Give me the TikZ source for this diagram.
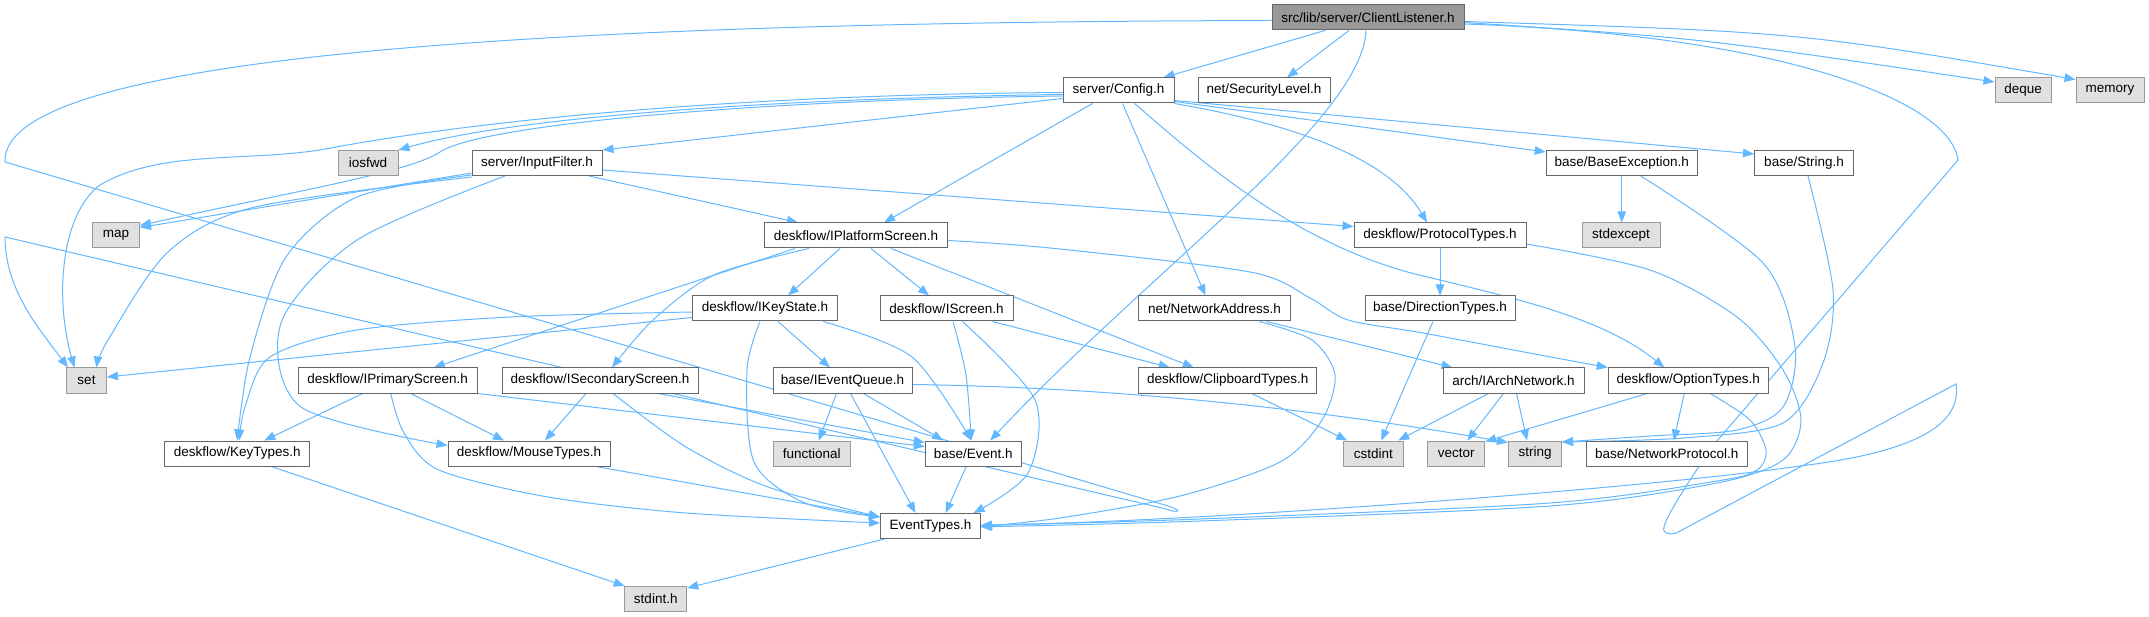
\documentclass[tikz,border=0pt]{standalone}
\usepackage{fontspec}
\setmainfont{Liberation Sans}
\usetikzlibrary{arrows.meta,backgrounds}
\definecolor{edgeblue}{HTML}{63B8FF}
\definecolor{boxline}{HTML}{666666}
\definecolor{sysline}{HTML}{999999}
\definecolor{sysfill}{HTML}{E0E0E0}
\definecolor{curfill}{HTML}{999999}
\tikzset{
  hdr/.style={draw=boxline, fill=white, line width=1pt, minimum height=25pt, inner sep=0pt,
              font=\fontsize{13.5}{16}\selectfont},
  sys/.style={hdr, draw=sysline, fill=sysfill},
  cur/.style={hdr, fill=curfill},
  dep/.style={draw=edgeblue, line width=1pt, -{Triangle[length=11pt,width=8.5pt]}},
}
\begin{document}
\begin{tikzpicture}[x=1pt,y=-1pt]
\useasboundingbox (0,0) rectangle (2149,617);

% ---------------- nodes ----------------
\node[cur, minimum width=192pt] (CL) at (1368,17.5) {src/lib/server/ClientListener.h};
\node[hdr, minimum width=111pt] (Config) at (1118.5,90.5) {server/Config.h};
\node[hdr, minimum width=132pt] (SecLevel) at (1264,90.5) {net/SecurityLevel.h};
\node[sys, minimum width=56pt] (deque) at (2023,90.5) {deque};
\node[sys, minimum width=68pt] (memory) at (2110,90.5) {memory};
\node[sys, minimum width=60pt] (iosfwd) at (368,163) {iosfwd};
\node[hdr, minimum width=130pt] (InputFilter) at (537,163) {server/InputFilter.h};
\node[hdr, minimum width=151pt] (BaseExc) at (1621.75,163) {base/BaseException.h};
\node[hdr, minimum width=99pt] (String) at (1804,163) {base/String.h};
\node[sys, minimum width=47pt] (map) at (116,235.5) {map};
\node[hdr, minimum width=183pt] (IPlatform) at (856,235.5) {deskflow/IPlatformScreen.h};
\node[hdr, minimum width=172pt] (Protocol) at (1440,235.5) {deskflow/ProtocolTypes.h};
\node[sys, minimum width=78pt] (stdexcept) at (1621,235.5) {stdexcept};
\node[hdr, minimum width=145pt] (IKeyState) at (765,308.5) {deskflow/IKeyState.h};
\node[hdr, minimum width=133pt] (IScreen) at (946.5,308.5) {deskflow/IScreen.h};
\node[hdr, minimum width=152pt] (NetAddr) at (1214.5,308.5) {net/NetworkAddress.h};
\node[hdr, minimum width=150pt] (DirTypes) at (1440,308.5) {base/DirectionTypes.h};
\node[sys, minimum width=40pt] (set) at (86.5,380.5) {set};
\node[hdr, minimum width=179pt] (IPrimary) at (387.7,380.5) {deskflow/IPrimaryScreen.h};
\node[hdr, minimum width=196pt] (ISecondary) at (600,380.5) {deskflow/ISecondaryScreen.h};
\node[hdr, minimum width=139pt] (IEventQueue) at (842.5,380.5) {base/IEventQueue.h};
\node[hdr, minimum width=178pt] (Clipboard) at (1227.8,380.5) {deskflow/ClipboardTypes.h};
\node[hdr, minimum width=141pt] (IArchNet) at (1513.5,380.5) {arch/IArchNetwork.h};
\node[hdr, minimum width=160pt] (OptionTypes) at (1688.25,380.5) {deskflow/OptionTypes.h};
\node[hdr, minimum width=145pt] (KeyTypes) at (237.25,453.5) {deskflow/KeyTypes.h};
\node[hdr, minimum width=162pt] (MouseTypes) at (529,453.5) {deskflow/MouseTypes.h};
\node[sys, minimum width=77pt] (functional) at (811.75,453.5) {functional};
\node[hdr, minimum width=96pt] (Event) at (973.25,453.5) {base/Event.h};
\node[sys, minimum width=60pt] (cstdint) at (1373.25,453.5) {cstdint};
\node[sys, minimum width=57pt] (vector) at (1456.25,453.5) {vector};
\node[sys, minimum width=53pt] (string) at (1535,453.5) {string};
\node[hdr, minimum width=161pt] (NetProto) at (1666.75,453.5) {base/NetworkProtocol.h};
\node[hdr, minimum width=100pt] (EventTypes) at (930.5,526) {EventTypes.h};
\node[sys, minimum width=62pt] (stdint) at (655.75,599) {stdint.h};

% ---------------- edges ----------------
\begin{pgfonlayer}{background}
\fill[white] (0,0) rectangle (2149,617);

% ClientListener
\draw[dep] ([xshift=-43pt]CL.south) -- ([xshift=45pt]Config.north);
\draw[dep] ([xshift=-19pt]CL.south) -- ([xshift=23pt]SecLevel.north);
\draw[dep] ([yshift=-5pt]CL.east) .. controls (1700,38) .. ([yshift=8.5pt]deque.west);
\draw[dep] ([yshift=-4pt]CL.east) .. controls (1800,32) .. ([yshift=11pt]memory.west);
\draw[dep] ([xshift=-2pt]CL.south) .. controls (1362,120) and (1150,270) .. ([xshift=17pt]Event.north);
\draw[dep] ([yshift=-3pt]CL.west) .. controls (600,22) and (0,50) .. (5,162)
   -- (1168,506) .. controls (1182,510) and (1180,514) .. (1166,509)
   -- (5,237) .. controls (5,290) and (40,330) .. ([xshift=2pt]set.north west);
\draw[dep] ([yshift=-6.5pt]CL.east) .. controls (1780,35) and (1950,100) .. (1958,160)
   -- (1717,441) .. controls (1690,478) and (1660,525) .. (1664,531)
   .. controls (1667,535) and (1674,535) .. (1680,531)
   -- (1956,384) .. controls (1962,425) and (1915,452) .. (1800,466)
   .. controls (1650,488) and (1200,522) .. ([yshift=1pt]EventTypes.east);

% Config
\draw[dep] ([yshift=-4pt]Config.west) .. controls (800,98) and (520,115) .. (iosfwd.north east);
\draw[dep] ([yshift=-8pt]Config.west) -- (InputFilter.north east);
\draw[dep] ([yshift=-5.5pt]Config.west) .. controls (750,100) and (480,125) .. (440,152)
   .. controls (410,172) and (300,190) .. ([yshift=-3pt]map.north east);
\draw[dep] ([yshift=-2pt]Config.west) .. controls (700,95) and (450,125) .. (320,150)
   .. controls (240,162) and (160,150) .. (100,185)
   .. controls (60,215) and (55,300) .. ([xshift=-12pt]set.north);
\draw[dep] ([xshift=-26pt]Config.south) -- ([xshift=28pt]IPlatform.north);
\draw[dep] (Config.south east) .. controls (1300,125) and (1390,160) .. ([xshift=-13pt]Protocol.north);
\draw[dep] ([yshift=2pt]Config.south east) -- ([yshift=-2pt]BaseExc.north west);
\draw[dep] ([yshift=3pt]Config.south east) -- ([yshift=-4pt]String.north west);
\draw[dep] ([xshift=4pt]Config.south) -- ([xshift=-9pt]NetAddr.north);
\draw[dep] ([xshift=16pt]Config.south) .. controls (1200,160) and (1290,240) .. (1411,273)
   .. controls (1500,295) and (1600,315) .. ([xshift=-24pt]OptionTypes.north);

% InputFilter
\draw[dep] ([yshift=-10pt]InputFilter.west) -- ([yshift=-5pt]map.north east);
\draw[dep] plot[smooth] coordinates {([yshift=-14pt]InputFilter.west) (255,207) (168,252) (108,340) ([xshift=10pt]set.north)};
\draw[dep] plot[smooth] coordinates {([yshift=-12pt]InputFilter.west) (357,197) (286,257) (250,357) (KeyTypes.north)};
\draw[dep] plot[smooth] coordinates {([xshift=-32pt]InputFilter.south) (357,240) (281,323) (301,407) ([yshift=8pt]MouseTypes.west)};
\draw[dep] ([xshift=52pt]InputFilter.south) -- ([xshift=-58pt]IPlatform.north);
\draw[dep] ([yshift=-7pt]InputFilter.east) -- ([yshift=9pt]Protocol.west);

% IPlatformScreen
\draw[dep] ([xshift=-16pt]IPlatform.south) -- ([xshift=23pt]IKeyState.north);
\draw[dep] ([xshift=15pt]IPlatform.south) -- ([xshift=-17.5pt]IScreen.north);
\draw[dep] ([xshift=-61pt]IPlatform.south) -- ([xshift=46pt]IPrimary.north);
\draw[dep] plot[smooth] coordinates {([xshift=-47pt]IPlatform.south) (714,275) (653,320) ([xshift=12pt]ISecondary.north)};
\draw[dep] ([xshift=35pt]IPlatform.south) -- ([xshift=-34pt]Clipboard.north);
\draw[dep] plot[smooth] coordinates {([yshift=-5pt]IPlatform.east) (1050,248) (1250,272) (1310,298) (1348,320) (1423,333) (1540,355) (OptionTypes.north west)};

% IKeyState
\draw[dep] ([yshift=-9pt]IKeyState.west) -- ([yshift=3.5pt]set.east);
\draw[dep] plot[smooth] coordinates {([yshift=-3.5pt]IKeyState.west) (510,317) (357,330) (270,357) (245,407) ([xshift=2pt]KeyTypes.north)};
\draw[dep] ([xshift=13pt]IKeyState.south) -- ([xshift=-12.5pt]IEventQueue.north);
\draw[dep] plot[smooth] coordinates {([xshift=58pt]IKeyState.south) (912,357) ([xshift=-2pt]Event.north)};
\draw[dep] plot[smooth] coordinates {([xshift=-5pt]IKeyState.south) (747,370) (754,462) (805,503) ([yshift=9pt]EventTypes.west)};

% IScreen
\draw[dep] plot[smooth] coordinates {([xshift=6.5pt]IScreen.south) (966,375) ([xshift=-2pt]Event.north)};
\draw[dep] plot[smooth] coordinates {([xshift=16pt]IScreen.south) (1035,400) (1028,473) ([xshift=43pt]EventTypes.north)};
\draw[dep] ([xshift=46pt]IScreen.south) -- ([xshift=-58pt]Clipboard.north);

% IPrimaryScreen
\draw[dep] ([xshift=-25pt]IPrimary.south) -- ([xshift=27pt]KeyTypes.north);
\draw[dep] ([xshift=23pt]IPrimary.south) -- ([xshift=-25pt]MouseTypes.north);
\draw[dep] plot[smooth] coordinates {([xshift=3pt]IPrimary.south) (404,433) (439,470) (548,497) (686,513) ([yshift=3pt]EventTypes.west)};
\draw[dep] (IPrimary.south east) -- ([yshift=7pt]Event.west);

% ISecondaryScreen
\draw[dep] ([xshift=-14pt]ISecondary.south) -- ([xshift=16pt]MouseTypes.north);
\draw[dep] plot[smooth] coordinates {([xshift=13pt]ISecondary.south) (686,447) (768,487) ([yshift=9pt]EventTypes.west)};
\draw[dep] ([xshift=58pt]ISecondary.south) -- ([yshift=11pt]Event.west);

% IEventQueue
\draw[dep] ([xshift=-6pt]IEventQueue.south) -- ([xshift=7pt]functional.north);
\draw[dep] ([xshift=21pt]IEventQueue.south) -- ([xshift=-30pt]Event.north);
\draw[dep] ([xshift=8pt]IEventQueue.south) -- ([xshift=-15pt]EventTypes.north);
\draw[dep] ([yshift=-4pt]IEventQueue.east) .. controls (1150,388) and (1350,415) .. ([yshift=11pt]string.west);

% Event, MouseTypes, KeyTypes, EventTypes
\draw[dep] ([xshift=-7pt]Event.south) -- ([xshift=15pt]EventTypes.north);
\draw[dep] ([xshift=67pt]MouseTypes.south) -- ([yshift=9pt]EventTypes.west);
\draw[dep] ([xshift=34pt]KeyTypes.south) -- ([xshift=-31pt]stdint.north);
\draw[dep] ([xshift=-46pt]EventTypes.south) -- ([yshift=11pt]stdint.east);

% BaseException, String
\draw[dep] (BaseExc.south) -- (BaseExc.south |- stdexcept.north);
\draw[dep] plot[smooth] coordinates {([xshift=19pt]BaseExc.south) (1763,263) (1795,347) (1783,407) (1737,430) (1650,436) ([yshift=11.5pt]string.east)};
\draw[dep] plot[smooth] coordinates {([xshift=4pt]String.south) (1833,290) (1823,363) (1783,423) (1683,438) ([yshift=11.5pt]string.east)};

% ProtocolTypes, DirectionTypes, NetworkAddress
\draw[dep] (Protocol.south) -- (DirTypes.north);
\draw[dep] plot[smooth] coordinates {([yshift=-8.5pt]Protocol.east) (1650,270) (1737,317) (1783,370) (1801,420) (1783,460) (1717,483) (1550,506) (1200,521) ([yshift=-1pt]EventTypes.east)};
\draw[dep] ([xshift=-7pt]DirTypes.south) -- ([xshift=8pt]cstdint.north);
\draw[dep] ([xshift=52pt]NetAddr.south) -- ([xshift=-61pt]IArchNet.north);
\draw[dep] plot[smooth] coordinates {([xshift=45pt]NetAddr.south) (1312,340) (1335,375) (1322,420) (1280,462) (1180,496) (1060,518) ([yshift=-0.5pt]EventTypes.east)};

% ClipboardTypes, IArchNetwork, OptionTypes
\draw[dep] ([xshift=24pt]Clipboard.south) -- ([xshift=-26pt]cstdint.north);
\draw[dep] ([xshift=-25pt]IArchNet.south) -- ([xshift=25pt]cstdint.north);
\draw[dep] ([xshift=-10pt]IArchNet.south) -- ([xshift=11pt]vector.north);
\draw[dep] ([xshift=3pt]IArchNet.south) -- ([xshift=-8pt]string.north);
\draw[dep] ([xshift=-41pt]OptionTypes.south) -- ([yshift=12pt]vector.east);
\draw[dep] ([xshift=-4pt]OptionTypes.south) -- ([xshift=7pt]NetProto.north);
\draw[dep] plot[smooth] coordinates {([xshift=22pt]OptionTypes.south) (1750,420) (1766,450) (1757,470) (1717,481) (1550,503) (1200,519) ([yshift=0.5pt]EventTypes.east)};
\end{pgfonlayer}
\end{tikzpicture}
\end{document}
